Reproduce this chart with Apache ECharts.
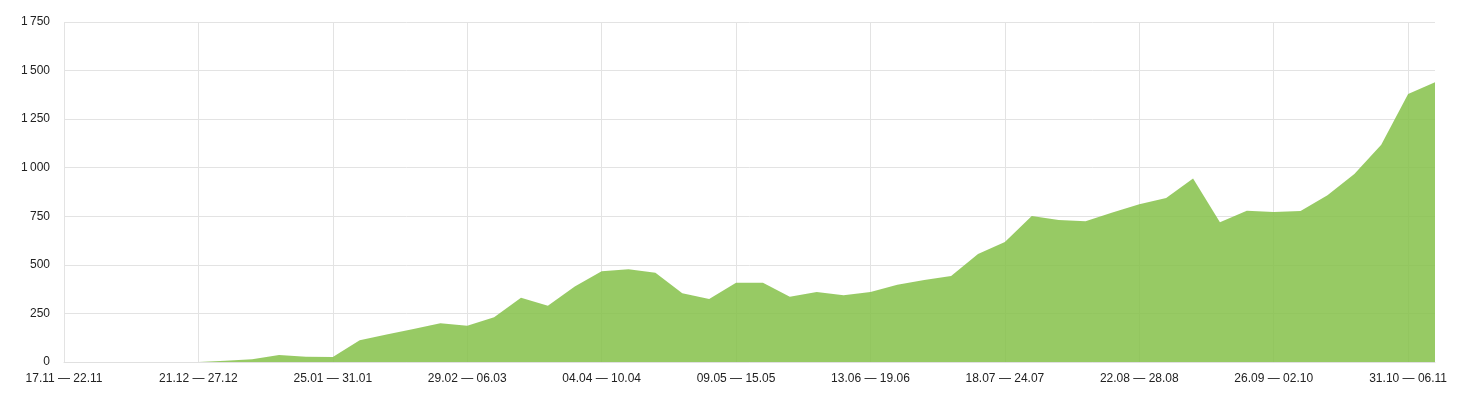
<!DOCTYPE html>
<html>
<head>
<meta charset="utf-8">
<script src="https://cdn.jsdelivr.net/npm/echarts@6/dist/echarts.min.js"></script>
<style>
html, body { margin: 0; padding: 0; background: #fff; }
#chart { width: 1468px; height: 412px; }
</style>
</head>
<body>
<div id="chart"></div>
<script>
// недели, 17.11 — 13.11
var weeks = [
    '17.11 — 22.11', '23.11 — 29.11', '30.11 — 06.12', '07.12 — 13.12', '14.12 — 20.12',
    '21.12 — 27.12', '28.12 — 03.01', '04.01 — 10.01', '11.01 — 17.01', '18.01 — 24.01',
    '25.01 — 31.01', '01.02 — 07.02', '08.02 — 14.02', '15.02 — 21.02', '22.02 — 28.02',
    '29.02 — 06.03', '07.03 — 13.03', '14.03 — 20.03', '21.03 — 27.03', '28.03 — 03.04',
    '04.04 — 10.04', '11.04 — 17.04', '18.04 — 24.04', '25.04 — 01.05', '02.05 — 08.05',
    '09.05 — 15.05', '16.05 — 22.05', '23.05 — 29.05', '30.05 — 05.06', '06.06 — 12.06',
    '13.06 — 19.06', '20.06 — 26.06', '27.06 — 03.07', '04.07 — 10.07', '11.07 — 17.07',
    '18.07 — 24.07', '25.07 — 31.07', '01.08 — 07.08', '08.08 — 14.08', '15.08 — 21.08',
    '22.08 — 28.08', '29.08 — 04.09', '05.09 — 11.09', '12.09 — 18.09', '19.09 — 25.09',
    '26.09 — 02.10', '03.10 — 09.10', '10.10 — 16.10', '17.10 — 23.10', '24.10 — 30.10',
    '31.10 — 06.11', '07.11 — 13.11'
];

var counts = [
    0, 0, 0, 0, 0,
    0, 7, 14, 36, 27,
    26, 112, 141, 170, 199,
    187, 230, 331, 290, 388,
    467, 477, 460, 354, 324,
    408, 408, 336, 360, 343,
    360, 398, 422, 443, 556,
    618, 751, 731, 724, 769,
    812, 844, 945, 719, 778,
    772, 777, 858, 968, 1118,
    1379, 1440
];

var yMax = 1750;
var yStep = 250;

function fmt(v) {
    // 1750 -> "1 750"
    return String(v).replace(/\B(?=(\d{3})+(?!\d))/g, '\u2009');
}

var myChart = echarts.init(document.getElementById('chart'));
myChart.setOption({
    animation: false,
    textStyle: { fontFamily: 'Liberation Sans, Arial, sans-serif' },
    grid: { left: 64, right: 33, top: 22, bottom: 50 },
    xAxis: {
        type: 'category',
        data: weeks,
        boundaryGap: false,
        axisLine: { lineStyle: { color: '#e0e0e0' } },
        axisTick: { show: false },
        axisLabel: { interval: 4, color: '#222', fontSize: 12, margin: 11 },
        splitLine: { show: true, interval: 4, lineStyle: { color: '#e3e3e3' } }
    },
    yAxis: {
        type: 'value',
        min: 0,
        max: yMax,
        interval: yStep,
        axisLine: { show: false },
        axisTick: { show: false },
        axisLabel: { color: '#222', fontSize: 12, margin: 14, formatter: fmt },
        splitLine: { lineStyle: { color: '#e3e3e3' } }
    },
    series: [{
        type: 'line',
        data: counts,
        symbol: 'none',
        lineStyle: { width: 0 },
        areaStyle: { color: 'rgba(134,193,75,0.86)', opacity: 1 }
    }]
});
</script>
</body>
</html>
